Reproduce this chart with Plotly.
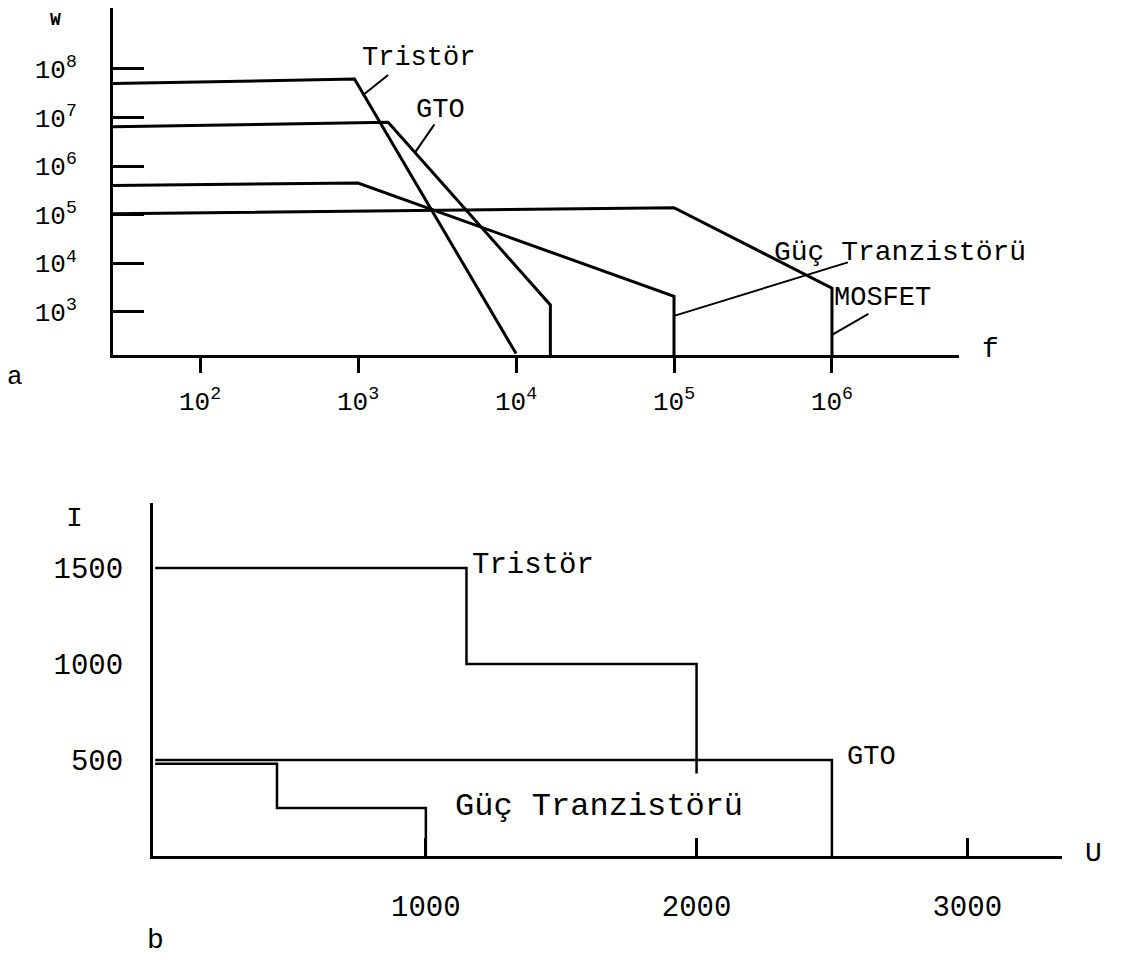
import plotly.graph_objects as go

# ---------------- (a) power W versus switching frequency f ----------------
tristor_f = [28, 950, 10000]
tristor_w = [5.0e7, 6.2e7, 140]
gto_f = [28, 1550, 16500, 16500]
gto_w = [6.5e6, 8.0e6, 1400, 130]
guc_f = [28, 1000, 1.0e5, 1.0e5]
guc_w = [4.0e5, 4.5e5, 2100, 130]
mosfet_f = [28, 1.0e5, 1.0e6, 1.0e6]
mosfet_w = [1.05e5, 1.4e5, 3100, 130]

w_tickvals = [1e3, 1e4, 1e5, 1e6, 1e7, 1e8]
w_ticktext = ["10<sup>3</sup>", "10<sup>4</sup>", "10<sup>5</sup>",
              "10<sup>6</sup>", "10<sup>7</sup>", "10<sup>8</sup>"]
f_tickvals = [1e2, 1e3, 1e4, 1e5, 1e6]
f_ticktext = ["10<sup>2</sup>", "10<sup>3</sup>", "10<sup>4</sup>",
              "10<sup>5</sup>", "10<sup>6</sup>"]

# ---------------- (b) current I versus voltage U ----------------
tristor_u = [0, 1150, 1150, 2000, 2000]
tristor_i = [1500, 1500, 1000, 1000, 430]
gto_u = [0, 2500, 2500]
gto_i = [500, 500, 0]
guc_u = [0, 450, 450, 1000, 1000]
guc_i = [480, 480, 250, 250, 0]

i_tickvals = [500, 1000, 1500]
u_tickvals = [1000, 2000, 3000]

FONT = "Liberation Mono, Courier New, monospace"
OFF = 8                      # page body margin
W, H = 1125 - OFF, 964 - OFF  # figure size inside the page


def px(x):
    return (x - OFF) / W


def py(y):
    return 1 - (y - OFF) / H


fig = go.Figure()

line_top = dict(color="black", width=3)
for f, w in [(tristor_f, tristor_w), (gto_f, gto_w), (guc_f, guc_w), (mosfet_f, mosfet_w)]:
    fig.add_trace(go.Scatter(x=f, y=w, mode="lines", line=line_top,
                             xaxis="x", yaxis="y", showlegend=False, hoverinfo="skip"))

line_bot = dict(color="black", width=2.5)
for u, i in [(tristor_u, tristor_i), (gto_u, gto_i), (guc_u, guc_i)]:
    fig.add_trace(go.Scatter(x=u, y=i, mode="lines", line=line_bot,
                             xaxis="x2", yaxis="y2", showlegend=False, hoverinfo="skip"))

annotations = []


def label(text, x, y, size=27, xanchor="center"):
    annotations.append(dict(text=text, x=px(x), y=py(y), xref="paper", yref="paper",
                            showarrow=False, xanchor=xanchor, yanchor="middle",
                            font=dict(family=FONT, size=size, color="black")))


def leader(x0, y0, x1, y1, xr="x", yr="y"):
    annotations.append(dict(text="", x=x1, y=y1, ax=x0, ay=y0, xref=xr, yref=yr,
                            axref=xr, ayref=yr, showarrow=True, arrowhead=0,
                            arrowwidth=2, arrowcolor="black"))


# top chart labels
label("<b>W</b>", 55, 20, size=18)
label("a", 15, 377, size=26)
label("f", 990, 350, size=28)
label("Tristör", 418, 58, size=27)
label("GTO", 440, 110, size=27)
label("Güç Tranzistörü", 900, 253, size=28)
label("MOSFET", 882, 298, size=27)
# leaders (log10 coordinates on log axes)
leader(3.20, 7.90, 3.03, 7.46)
leader(3.49, 6.89, 3.36, 6.28)
leader(6.11, 4.03, 5.0, 2.92)
leader(6.24, 2.98, 6.0, 2.53)

# bottom chart labels
label("I", 74, 519, size=28)
label("U", 1093, 853, size=28)
label("b", 155, 940, size=28)
label("Tristör", 470, 565, size=29, xanchor="left")
label("GTO", 845, 757, size=27, xanchor="left")
label("Güç Tranzistörü", 453, 806, size=32, xanchor="left")

axis_common = dict(showgrid=False, zeroline=False, showline=True, linecolor="black",
                   linewidth=3, tickcolor="black", tickwidth=2.5)

fig.update_layout(
    width=W, height=H,
    margin=dict(l=0, r=0, t=0, b=0),
    paper_bgcolor="white", plot_bgcolor="white",
    showlegend=False,
    annotations=annotations,
    xaxis=dict(axis_common, type="log", range=[1.449, 6.804],
               domain=[px(113), px(959)], anchor="y",
               tickvals=f_tickvals, ticktext=f_ticktext,
               tickfont=dict(family=FONT, size=26, color="black"),
               ticks="outside", ticklen=15, ticklabelstandoff=6),
    yaxis=dict(axis_common, type="log", range=[2.115, 9.255],
               domain=[py(355), py(8)], anchor="x",
               tickvals=w_tickvals, ticktext=w_ticktext,
               tickfont=dict(family=FONT, size=26, color="black"),
               ticks="inside", ticklen=31, ticklabelstandoff=28),
    xaxis2=dict(axis_common, range=[-8, 3350],
                domain=[px(153), px(1062)], anchor="y2",
                tickvals=u_tickvals, ticktext=[str(v) for v in u_tickvals],
                tickfont=dict(family=FONT, size=29, color="black"),
                ticks="inside", ticklen=18, ticklabelstandoff=22),
    yaxis2=dict(axis_common, range=[0, 1838],
                domain=[py(856), py(503)], anchor="x2",
                tickvals=i_tickvals, ticktext=[str(v) for v in i_tickvals],
                tickfont=dict(family=FONT, size=29, color="black"),
                ticks="", ticklabelstandoff=21),
)

fig.write_html("out.html")
